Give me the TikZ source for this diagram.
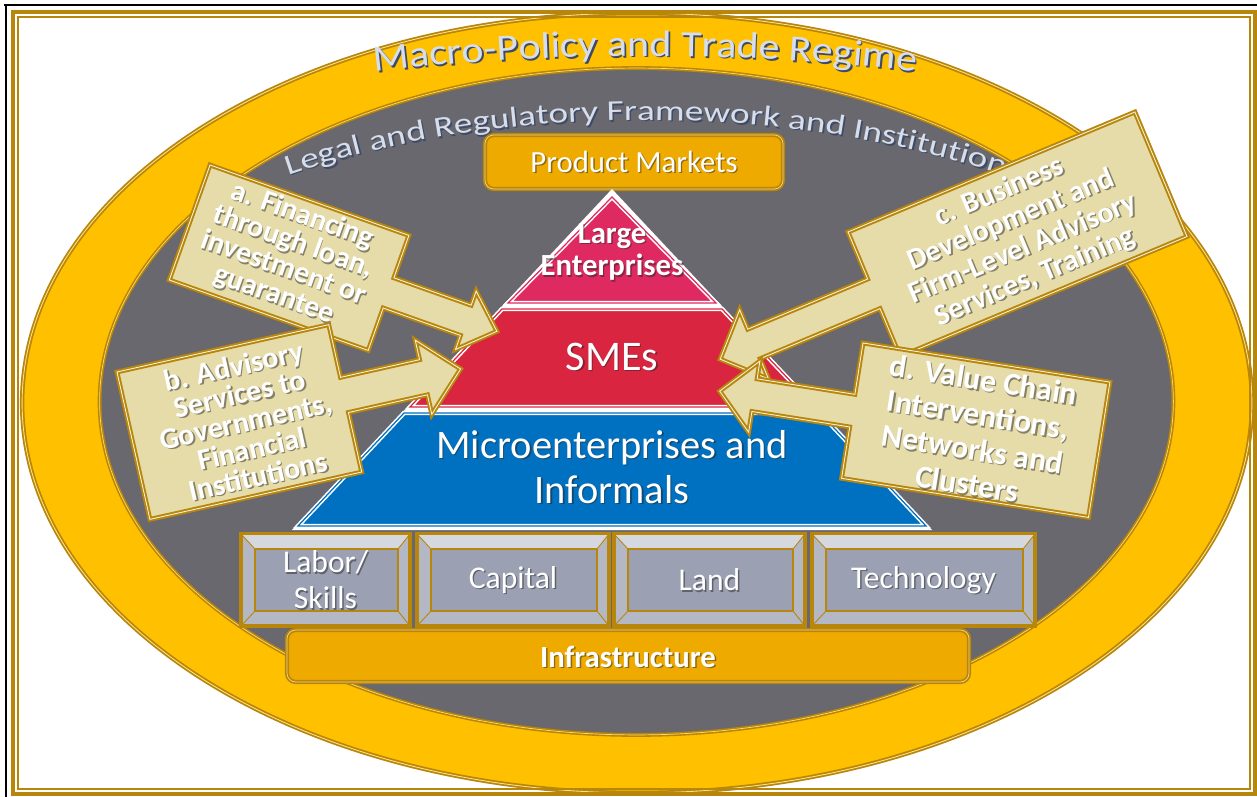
\documentclass[tikz,border=0pt]{standalone}
\usepackage{fontspec}
\setmainfont{Carlito}
\newfontfamily\macrofamily[FakeStretch=1.14]{Carlito}
\newfontfamily\legalfamily[FakeStretch=1.3]{Carlito}
\usetikzlibrary{decorations.text,positioning}

\definecolor{ringgold}{HTML}{FFC000}
\definecolor{edgegold}{HTML}{B8860B}
\definecolor{innergray}{HTML}{69686E}
\definecolor{amber}{HTML}{EFAA00}
\definecolor{calltan}{HTML}{E6DCA9}
\definecolor{largered}{HTML}{DE2A60}
\definecolor{smered}{HTML}{D9253F}
\definecolor{microblue}{HTML}{0070C0}
\definecolor{factorgray}{HTML}{9BA1B2}
\definecolor{bevelgray}{HTML}{B4B8C4}
\definecolor{ringtext}{HTML}{D6DEEC}
\definecolor{ringshade}{HTML}{3E4A66}

% text with a soft drop shadow: name, options, position, text
\newcommand{\shadenode}[4]{%
  \node[#2, text=black!85, opacity=0.5, xshift=0.8pt, yshift=-0.8pt] at (#3) {#4};
  \node[#2] (#1) at (#3) {#4};}

\begin{document}
\begin{tikzpicture}[x=0.02cm, y=-0.02cm,
  callout/.style={fill=calltan, draw=edgegold, line width=1.1pt, double=calltan!40!white, double distance=0.5pt, line join=miter},
  calltext/.style={text=white, align=center, inner sep=0pt, font=\bfseries\fontsize{17}{16}\selectfont},
  band/.style={fill=#1, draw=white, line width=0.9pt, double=#1, double distance=0.7pt},
  amberbox/.style={fill=amber, draw=edgegold, line width=1pt, double=amber!50!white, double distance=0.4pt, rounded corners=5pt},
  whitetext/.style={text=white, align=center, inner sep=0pt},
  factortext/.style={whitetext, font=\fontsize{18}{20.5}\selectfont}]
\fill[white] (0,0) rectangle (1257,797);
\useasboundingbox (0,0) rectangle (1257,797);

% rings
\draw[fill=ringgold, draw=edgegold, line width=1pt, double=ringgold!50!white, double distance=0.5pt] (637,403) ellipse [x radius=12.3cm, y radius=7.8cm];
\draw[fill=innergray, draw=edgegold, line width=0.9pt, double=ringgold!60!white, double distance=0.4pt] (636.5,401.5) ellipse [x radius=10.74cm, y radius=6.67cm];

% frame
\draw[black, line width=1.7pt] (4,5) -- (1257,5);
\draw[black, line width=1.7pt] (6,4) -- (6,797);
\draw[edgegold, line width=2.2pt] (13,12) rectangle (1255,794);
\draw[edgegold, line width=0.7pt] (18,17) rectangle (1250,789);

% arched titles
\path[decorate, xshift=1pt, yshift=-1pt, decoration={text along path, text align=center,
  text={|\macrofamily\fontsize{21}{21}\selectfont\color{ringshade}|Macro-Policy and Trade Regime}}]
  ([shift={(112:18.18cm and 6.92cm)}]645,402) arc [start angle=112, end angle=68, x radius=18.18cm, y radius=6.92cm];
\path[decorate, decoration={text along path, text align=center,
  text={|\macrofamily\fontsize{21}{21}\selectfont\color{ringtext}|Macro-Policy and Trade Regime}}]
  ([shift={(112:18.18cm and 6.92cm)}]645,402) arc [start angle=112, end angle=68, x radius=18.18cm, y radius=6.92cm];
\path[decorate, xshift=0.9pt, yshift=-0.9pt, decoration={text along path,
  text={|\legalfamily\fontsize{16.3}{17}\selectfont\color{ringshade}|Legal and Regulatory Framework and Institutions}}]
  ([shift={(126.5:12cm and 5.64cm)}]645,402) arc [start angle=126.5, end angle=28, x radius=12cm, y radius=5.64cm];
\path[decorate, decoration={text along path,
  text={|\legalfamily\fontsize{16.3}{17}\selectfont\color{ringtext}|Legal and Regulatory Framework and Institutions}}]
  ([shift={(126.5:12cm and 5.64cm)}]645,402) arc [start angle=126.5, end angle=28, x radius=12cm, y radius=5.64cm];

% product markets
\draw[amberbox] (485,135) rectangle (783,189);
\shadenode{markets}{whitetext, font=\fontsize{17.5}{20}\selectfont}{634,162}{Product Markets}

% pyramid
\fill[white] (612,189) -- (932,530) -- (292,530) -- cycle;
\draw[band=largered] (612,197) -- (716,303) -- (508,303) -- cycle;
\draw[band=smered] (502,309) -- (722,309) -- (815,407) -- (410,407) -- cycle;
\draw[band=microblue] (404,413) -- (820,413) -- (926,526) -- (298,526) -- cycle;
\shadenode{large}{whitetext, font=\bfseries\fontsize{17.5}{18.5}\selectfont}{612,252}{Large\\Enterprises}
\shadenode{smes}{whitetext, font=\fontsize{24}{26}\selectfont}{612,357}{SMEs}
\shadenode{micro}{whitetext, font=\fontsize{23}{25.6}\selectfont}{612,467}{Microenterprises and\\Informals}

% factors of production
\foreach \xa/\xb/\nm/\lbl in {241/410/labor/{Labor/\\Skills}, 417/609/capital/Capital, 614/805/land/Land, 812/1035/tech/Technology}{
  \draw[edgegold, line width=1.8pt, fill=bevelgray] (\xa,534) rectangle (\xb,626);
  \fill[bevelgray!55!white] (\xa+1,535) -- (\xb-1,535) -- (\xb-12,549) -- (\xa+14,549) -- cycle;
  \draw[edgegold, line width=0.5pt] (\xa,534) -- (\xa+14,549) (\xb,534) -- (\xb-12,549) (\xa,626) -- (\xa+14,611) (\xb,626) -- (\xb-12,611);
  \draw[edgegold, line width=0.6pt, fill=factorgray] (\xa+14,549) rectangle (\xb-12,611);
  \shadenode{\nm}{factortext}{{(\xa+\xb)/2},580}{\lbl}
}

% infrastructure
\draw[amberbox] (287,630) rectangle (969,682);
\shadenode{infra}{whitetext, font=\bfseries\fontsize{17.5}{20}\selectfont}{628,657}{Infrastructure}

% callouts
\begin{scope}[shift={(210,165)}, rotate=-19.5, transform shape]
  \draw[callout] (0,0) -- (211,0) -- (211,45) -- (293,45) -- (293,30) -- (326,61) -- (293,92) -- (293,77) -- (211,77) -- (211,122) -- (0,122) -- cycle;
  \shadenode{finance}{calltext}{104,59}{a. Financing\\through loan,\\investment or\\guarantee}
\end{scope}
\begin{scope}[shift={(117,372)}, rotate=12.6, transform shape]
  \draw[callout] (0,0) -- (217,0) -- (217,54) -- (298,54) -- (298,34) -- (336,72) -- (298,110) -- (298,90) -- (217,90) -- (217,151) -- (0,151) -- cycle;
  \shadenode{advisory}{calltext}{115,76}{b. Advisory\\Services to\\Governments,\\Financial\\Institutions}
\end{scope}
\begin{scope}[shift={(848,232)}, rotate=22.7, transform shape]
  \draw[callout] (0,0) -- (311,0) -- (311,135) -- (0,135) -- (0,83) -- (-130,83) -- (-130,105) -- (-167,68) -- (-130,30) -- (-130,51) -- (0,51) -- cycle;
  \shadenode{business}{calltext, font=\bfseries\fontsize{17}{17.5}\selectfont}{155,68}{c. Business\\Development and\\Firm-Level Advisory\\Services, Training}
\end{scope}
\begin{scope}[shift={(863,343)}, rotate=-9, transform shape]
  \draw[callout] (0,0) -- (250,0) -- (250,137) -- (0,137) -- (0,85) -- (-99,85) -- (-99,106) -- (-134,70) -- (-99,34) -- (-99,52) -- (0,52) -- cycle;
  \shadenode{chain}{calltext, font=\bfseries\fontsize{18}{20}\selectfont}{125,70}{d. Value Chain\\Interventions,\\Networks and\\Clusters}
\end{scope}
\end{tikzpicture}
\end{document}
